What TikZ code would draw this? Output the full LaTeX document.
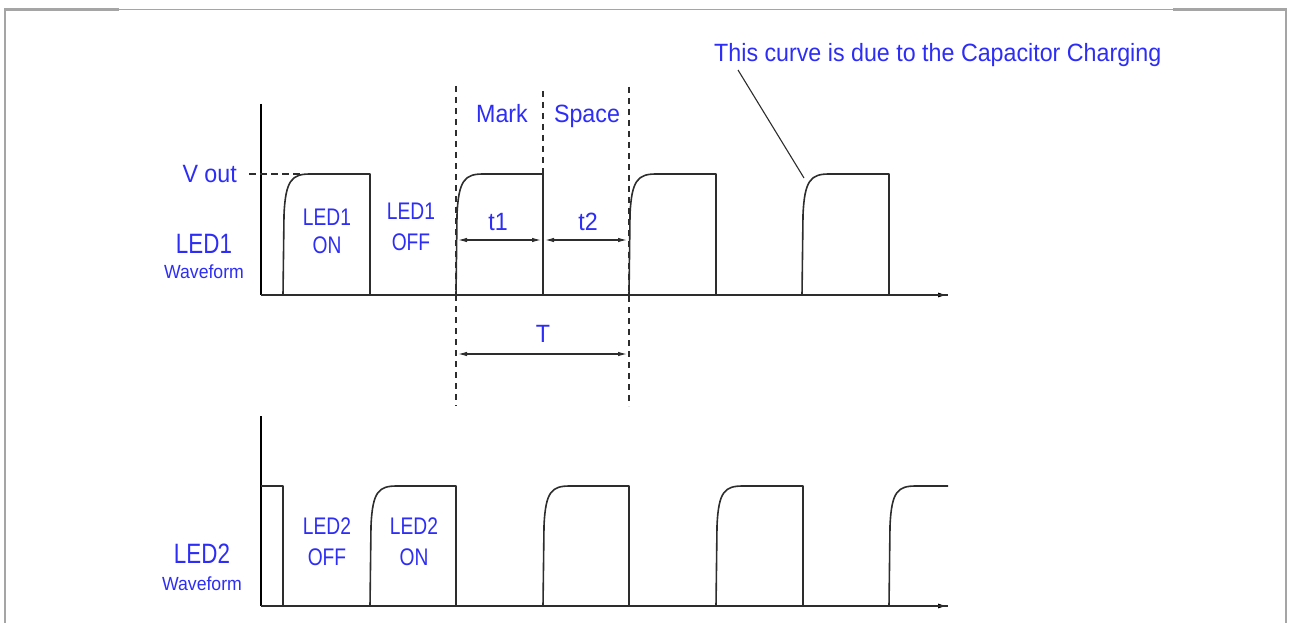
\documentclass[tikz,border=0pt]{standalone}
\usepackage{fontspec}
\setmainfont[FakeStretch=0.93]{Liberation Sans}
\newfontfamily\narrowlbl[FakeStretch=0.8]{Liberation Sans}
\usetikzlibrary{arrows.meta}
\definecolor{lblue}{RGB}{45,45,245}
\definecolor{wline}{RGB}{45,45,45}
\definecolor{frame}{RGB}{165,165,165}
\tikzset{
  lbl/.style={text=lblue, inner sep=0pt, anchor=base, font=\fontsize{25}{30}\selectfont},
  ledlbl/.style={lbl, font=\narrowlbl\fontsize{24}{30}\selectfont},
  biglbl/.style={lbl, font=\narrowlbl\fontsize{28}{30}\selectfont},
  smalllbl/.style={lbl, font=\fontsize{19}{20}\selectfont},
  wave/.style={draw=wline, line width=1.6pt, line join=round},
  axis/.style={draw=black, line width=1.6pt},
  guide/.style={draw=wline, line width=1.3pt, dash pattern=on 6pt off 5pt},
  dim/.style={draw=wline, line width=1.1pt, {Latex[length=9pt,width=4.5pt]}-{Latex[length=9pt,width=4.5pt]}},
  axarrow/.style={axis, -{Latex[length=10pt,width=5pt]}},
  callout/.style={draw=wline, line width=1.1pt}
}
\begin{document}
\begin{tikzpicture}[x=1pt,y=-1pt]
\useasboundingbox (0,0) rectangle (1290,623);
% frame
\draw[frame, line width=1pt] (5,9.5) -- (1286,9.5);
\draw[frame, line width=2.2pt] (5,623) -- (5,9.5) -- (119,9.5);
\draw[frame, line width=2.2pt] (1173,9.5) -- (1286,9.5) -- (1286,623);

% ---------- top chart (LED1) ----------
\coordinate (a1o) at (261,295);
\coordinate (a1t) at (261,104);
\coordinate (a1e) at (948,295);
\draw[axis] (a1t) -- (a1o);
\draw[axarrow] (a1o) -- (a1e);
% waveform
\foreach \r/\f in {283/370, 456/543, 629/716, 802/889}{
  \draw[wave] (\r,295) -- (\r+1,215) .. controls (\r+2.5,180) and (\r+9,174) .. (\r+27,174) -- (\f,174) -- (\f,295);
}
\draw[wave] (261,295) -- (948,295);
% guides
\coordinate (vo) at (249,174);
\coordinate (vo2) at (300,174);
\draw[guide, dash pattern=on 7pt off 4pt] (vo) -- (vo2);
\coordinate (g1t) at (456,86);  \coordinate (g1b) at (456,406);
\coordinate (g2t) at (543,91);  \coordinate (g2b) at (543,174);
\coordinate (g3t) at (629,87);  \coordinate (g3b) at (629,406);
\draw[guide] (g1t) -- (g1b);
\draw[guide] (g2t) -- (g2b);
\draw[guide] (g3t) -- (g3b);
% dimension arrows
\coordinate (t1a) at (458,240); \coordinate (t1b) at (541,240);
\coordinate (t2a) at (545,240); \coordinate (t2b) at (627,240);
\coordinate (Ta) at (458,354);  \coordinate (Tb) at (627,354);
\draw[dim] (t1a) -- (t1b);
\draw[dim] (t2a) -- (t2b);
\draw[dim] (Ta) -- (Tb);
% labels
\node[lbl, anchor=base east] (vout) at (237,182) {V out};
\node[biglbl] (led1) at (204,253) {LED1};
\node[smalllbl] (wf1) at (204,278) {Waveform};
\node[ledlbl] (on1a) at (327,225) {LED1};
\node[ledlbl] (on1b) at (327,253) {ON};
\node[ledlbl] (off1a) at (411,219) {LED1};
\node[ledlbl] (off1b) at (411,250) {OFF};
\node[lbl] (mark) at (502,123) {Mark};
\node[lbl] (space) at (587,123) {Space};
\node[lbl] (t1) at (498,230) {t1};
\node[lbl] (t2) at (588,230) {t2};
\node[lbl] (T) at (543,342) {T};
\node[lbl, anchor=base west] (note) at (714,62) {This curve is due to the Capacitor Charging};
\coordinate (c1) at (738,70);
\coordinate (c2) at (804,178);
\draw[callout] (c1) -- (c2);

% ---------- bottom chart (LED2) ----------
\coordinate (a2o) at (261,606);
\coordinate (a2t) at (261,416);
\coordinate (a2e) at (948,606);
\draw[axis] (a2t) -- (a2o);
\draw[axarrow] (a2o) -- (a2e);
\draw[wave] (261,486) -- (283,486) -- (283,606);
\foreach \r/\f in {370/456, 543/629, 716/803}{
  \draw[wave] (\r,606) -- (\r+1,526) .. controls (\r+2.5,491) and (\r+9,486) .. (\r+27,486) -- (\f,486) -- (\f,606);
}
\draw[wave] (889,606) -- (890,526) .. controls (891.5,491) and (898,486) .. (916,486) -- (948,486);
\draw[wave] (261,606) -- (948,606);
\node[biglbl] (led2) at (202,563) {LED2};
\node[smalllbl] (wf2) at (202,590) {Waveform};
\node[ledlbl] (off2a) at (327,534) {LED2};
\node[ledlbl] (off2b) at (327,565) {OFF};
\node[ledlbl] (on2a) at (414,534) {LED2};
\node[ledlbl] (on2b) at (414,565) {ON};
\end{tikzpicture}
\end{document}
